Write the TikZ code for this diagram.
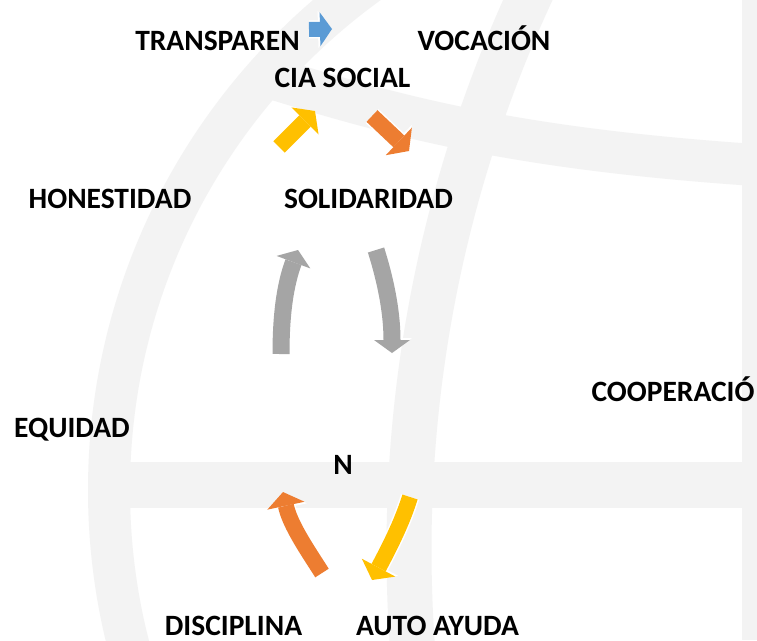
\documentclass[tikz,border=0pt]{standalone}
\usepackage{fontspec}
\setmainfont{Carlito}
\usetikzlibrary{arrows.meta}
\definecolor{wm}{RGB}{243,243,243}
\definecolor{cblue}{RGB}{91,155,213}
\definecolor{corange}{RGB}{237,125,49}
\definecolor{cyellow}{RGB}{255,192,0}
\definecolor{cgray}{RGB}{165,165,165}
\begin{document}
\begin{tikzpicture}[x=1pt,y=-1pt,
  lbl/.style={font=\fontsize{29.5}{31}\selectfont\bfseries, inner sep=0pt, anchor=base, text=black},
  band/.style={draw=wm, line width=#1},
  outc/.style={draw=white, line width=19pt, -{Triangle[width=42pt,length=16pt,line width=0pt]}},
  fatc/.style={draw=#1, line width=16pt, -{Triangle[width=38pt,length=14pt,line width=0pt]}},
  outg/.style={draw=white, line width=20pt, -{Triangle[width=40pt,length=15pt,line width=0pt]}},
  fatg/.style={draw=cgray, line width=17pt, -{Triangle[width=36pt,length=13pt,line width=0pt]}},
  outb/.style={draw=white, line width=18pt, -{Triangle[width=37pt,length=14pt,line width=0pt]}},
  fatb/.style={draw=cblue, line width=15pt, -{Triangle[width=34pt,length=12pt,line width=0pt]}}]
\useasboundingbox (0,0) rectangle (757,640);
\fill[white] (0,0) rectangle (757,640);
% watermark globe
\begin{scope}
\clip (0,0) rectangle (757,640);
\draw[band=42pt] (734,490) circle[radius=625];
\draw[band=45pt] (1738,550) circle[radius=1329];
\draw[band=46pt] (110,485) -- (770,485);
\fill[wm] (742,0) rectangle (770,640);
\draw[band=42pt] (265,76) .. controls (400,118) and (520,150) .. (770,166);
\end{scope}
% labels
\node[lbl] (transp) at (217.5,50) {TRANSPAREN};
\node[lbl] (voc) at (484,50) {VOCACIÓN};
\node[lbl] (cia) at (342.5,87) {CIA SOCIAL};
\node[lbl] (hon) at (110,208) {HONESTIDAD};
\node[lbl] (sol) at (368.5,208) {SOLIDARIDAD};
\node[lbl] (equ) at (72,437) {EQUIDAD};
\node[lbl] (n) at (343,474) {N};
\node[lbl] (coop) at (673,401) {COOPERACIÓ};
\node[lbl] (dis) at (233.5,635) {DISCIPLINA};
\node[lbl] (auto) at (437.5,635) {AUTO AYUDA};
% arrow end points
\coordinate (bA) at (309,29.5);  \coordinate (bB) at (332,29);
\coordinate (yA) at (279,147);   \coordinate (yB) at (315,111);
\coordinate (oA) at (372,116);   \coordinate (oB) at (409,151);
\coordinate (gA) at (281,354);   \coordinate (gB) at (298,250);
\coordinate (hA) at (376,250);   \coordinate (hB) at (392,353);
\coordinate (pA) at (322,573);   \coordinate (pB) at (283,492);
\coordinate (qA) at (410,497);   \coordinate (qB) at (372,580);
% arrows
\draw[outb] (bA) -- (bB);
\draw[fatb] (bA) -- (bB);
\draw[outc] (yA) -- (yB);
\draw[fatc=cyellow] (yA) -- (yB);
\draw[outc] (oA) -- (oB);
\draw[fatc=corange] (oA) -- (oB);
\draw[outg] (gA) .. controls (281,315) and (285,285) .. (gB);
\draw[fatg] (gA) .. controls (281,315) and (285,285) .. (gB);
\draw[outg] (hA) .. controls (388,288) and (392,318) .. (hB);
\draw[fatg] (hA) .. controls (388,288) and (392,318) .. (hB);
\draw[outc] (pA) .. controls (308,551) and (290,525) .. (pB);
\draw[fatc=corange] (pA) .. controls (308,551) and (290,525) .. (pB);
\draw[outc] (qA) .. controls (404,516) and (396,535) .. (qB);
\draw[fatc=cyellow] (qA) .. controls (404,516) and (396,535) .. (qB);
\end{tikzpicture}
\end{document}
